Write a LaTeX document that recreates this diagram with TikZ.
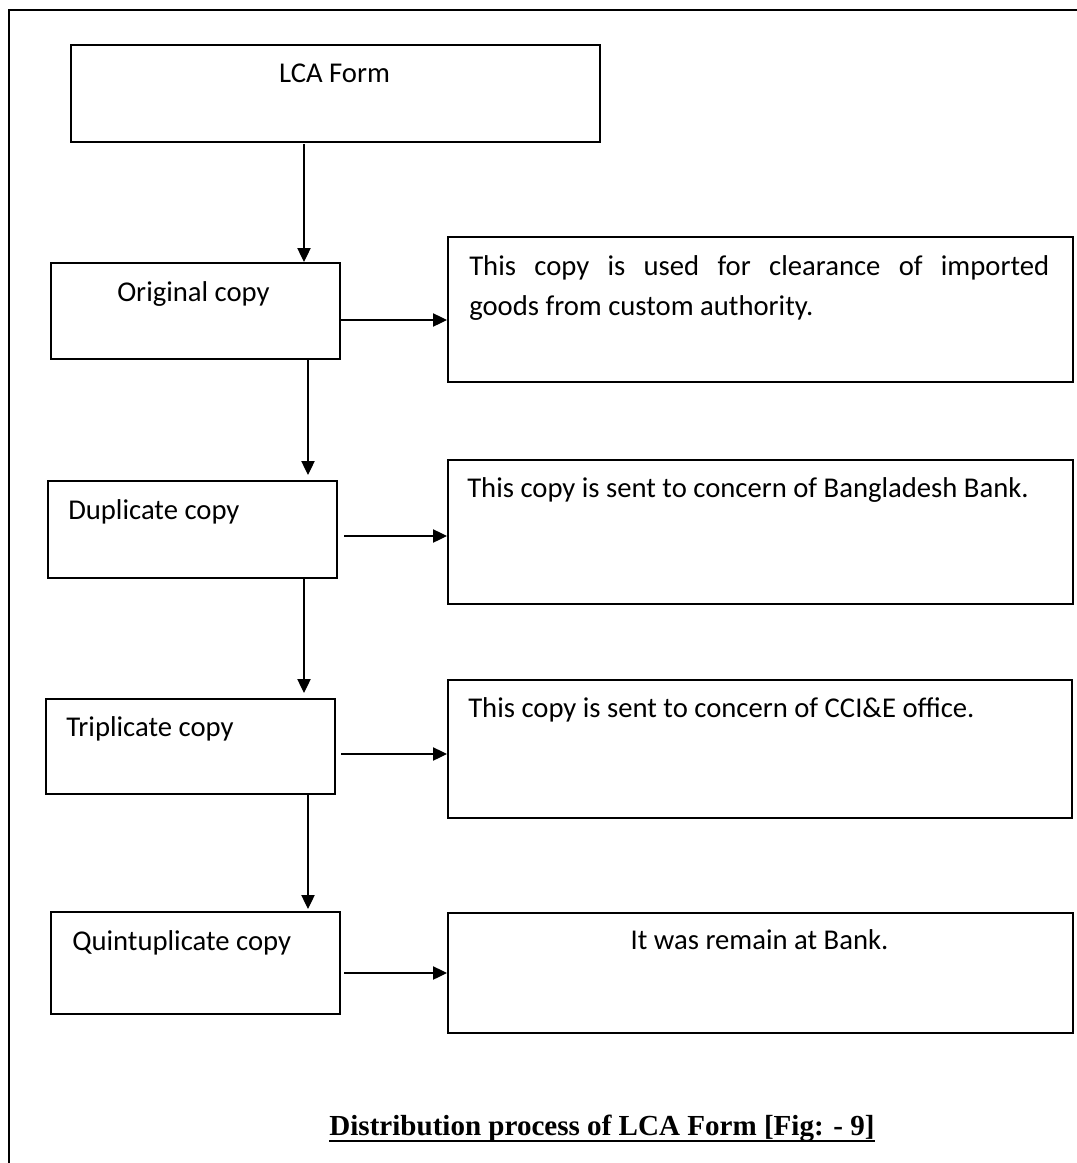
\documentclass[tikz,border=0pt]{standalone}
\usepackage{fontspec}
\setmainfont{Carlito}
\newfontfamily\capfont{Liberation Serif}
\usetikzlibrary{arrows.meta}
\tikzset{
  box/.style={draw=black, line width=1.2pt, rectangle, anchor=north west, inner sep=0pt},
  txt/.style={inner sep=0pt, anchor=base west, font=\fontsize{21.5}{30}\selectfont},
  ctxt/.style={inner sep=0pt, anchor=base, font=\fontsize{21.5}{30}\selectfont},
  arr/.style={draw=black, line width=0.9pt, -{Triangle[length=10.5pt,width=10pt]}},
  frame/.style={draw=black, line width=1.5pt}
}
\begin{document}
\begin{tikzpicture}[x=0.75pt,y=-0.75pt]
\useasboundingbox (0,0) rectangle (1077,1163);
% outer frame (open at right and bottom)
\coordinate (fb) at (9,1163);
\coordinate (ftl) at (9,10);
\coordinate (fr) at (1077,10);
\draw[frame] (fb) -- (ftl) -- (fr);

% left boxes
\node[box, minimum width=396.75pt, minimum height=72.75pt] (lca) at (70,44) {};
\node[box, minimum width=216.75pt, minimum height=72pt] (orig) at (50,262) {};
\node[box, minimum width=216.75pt, minimum height=72.75pt] (dup) at (47,480) {};
\node[box, minimum width=216.75pt, minimum height=71.25pt] (trip) at (45,698) {};
\node[box, minimum width=216.75pt, minimum height=76.5pt] (quin) at (50,911) {};

% right boxes
\node[box, minimum width=468.75pt, minimum height=108.75pt] (r1) at (447,236) {};
\node[box, minimum width=468.75pt, minimum height=108pt] (r2) at (447,459) {};
\node[box, minimum width=468pt, minimum height=103.5pt] (r3) at (447,679) {};
\node[box, minimum width=468.75pt, minimum height=90pt] (r4) at (447,912) {};

% texts
\node[ctxt] (tlca) at (334.5,83) {LCA Form};
\node[txt] (torig) at (117,301) {Original copy};
\node[txt] (tdup) at (68,519) {Duplicate copy};
\node[txt] (ttrip) at (66,736) {Triplicate copy};
\node[txt] (tquin) at (72,950) {Quintuplicate copy};
\node[txt] (tr1a) at (469,275) {\makebox[435pt][s]{This copy is used for clearance of imported}};
\node[txt] (tr1b) at (469,315) {goods from custom authority.};
\node[txt] (tr2) at (467,497) {This copy is sent to concern of Bangladesh Bank.};
\node[txt] (tr3) at (468,717) {This copy is sent to concern of CCI\&E office.};
\node[ctxt] (tr4) at (759.5,949) {It was remain at Bank.};

% caption
\node[inner sep=0pt, anchor=base, font=\capfont\bfseries\fontsize{21.8}{26}\selectfont] (cap) at (602,1135) {Distribution process of LCA Form [Fig: - 9]};
\coordinate (ul1) at (cap.west |- 0,1141);
\coordinate (ul2) at (cap.east |- 0,1141);
\draw[line width=1.7pt] (ul1) -- (ul2);

% vertical arrows
\coordinate (v1) at (304,144);
\coordinate (v2) at (308,358);
\coordinate (v3) at (304,577);
\coordinate (v4) at (308,793);
\draw[arr] (v1) -- (v1 |- orig.north);
\draw[arr] (v2) -- ([yshift=3.75pt]v2 |- dup.north);
\draw[arr] (v3) -- ([yshift=3.75pt]v3 |- trip.north);
\draw[arr] (v4) -- ([yshift=1.5pt]v4 |- quin.north);

% horizontal arrows
\coordinate (h1) at (341,320);
\coordinate (h2) at (344,536);
\coordinate (h3) at (341,754);
\coordinate (h4) at (344,973);
\draw[arr] (h1) -- (h1 -| r1.west);
\draw[arr] (h2) -- (h2 -| r2.west);
\draw[arr] (h3) -- (h3 -| r3.west);
\draw[arr] (h4) -- (h4 -| r4.west);
\end{tikzpicture}
\end{document}
